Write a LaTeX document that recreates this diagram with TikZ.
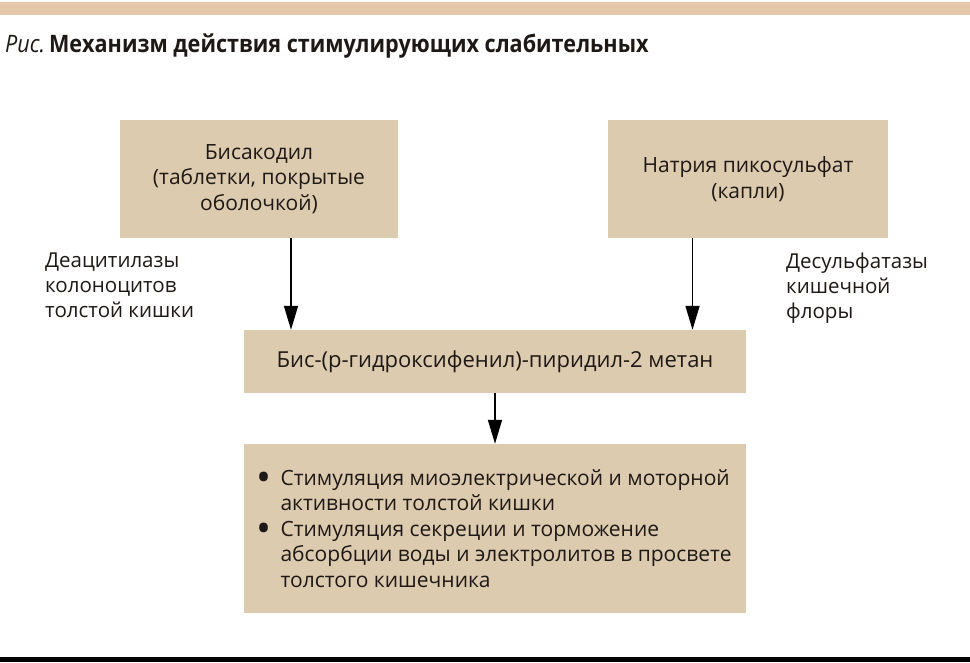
\documentclass[tikz,border=0pt]{standalone}
\usepackage{fontspec}
\setmainfont{Open Sans}
\usetikzlibrary{arrows.meta}
\definecolor{boxc}{RGB}{221,203,176}
\definecolor{barc}{RGB}{229,199,170}
\definecolor{txt}{RGB}{30,25,22}
\newcommand{\bulletmark}{\makebox[22pt][l]{\hspace*{-2pt}\raisebox{-0.3em}{\scalebox{1.9}{\textbullet}}}}
\begin{document}
\begin{tikzpicture}[x=1pt,y=-1pt,
  box/.style={fill=boxc, draw=none, inner sep=0pt, text=txt, align=center,
    font=\fontsize{21}{25.5}\selectfont},
  lbl/.style={font=\fontsize{20.5}{25}\selectfont, align=left, anchor=north west,
    inner sep=0pt, text=txt},
  arr/.style={-{Triangle[length=24pt,width=14pt]}, line width=1.5pt, draw=black}]
\useasboundingbox (0,0) rectangle (970,662);
\fill[white] (0,0) rectangle (970,662);
\fill[barc] (0,2) rectangle (970,15);
\fill[black] (0,656.5) rectangle (970,662);
% title
\node[anchor=base west, inner sep=0pt, text=txt] (title) at (5,52.7)
  {\fontsize{24}{28}\selectfont\addfontfeatures{FakeStretch=0.9}\textit{Рис.}\,\textbf{Механизм действия стимулирующих слабительных}};
% boxes
\node[box, minimum width=278pt, minimum height=118pt] (b1) at (259,179)
  {Бисакодил\\(таблетки, покрытые\\оболочкой)};
\node[box, minimum width=280pt, minimum height=118pt] (b2) at (748,179)
  {Натрия пикосульфат\\(капли)};
\node[box, minimum width=502pt, minimum height=63pt, font=\fontsize{22}{26}\selectfont] (b3) at (495,361.5)
  {Бис-(р-гидроксифенил)-пиридил-2 метан};
\node[box, minimum width=502pt, minimum height=169pt, align=left] (b4) at (495,528.5)
  {\bulletmark Стимуляция миоэлектрической и моторной\\
   \hspace*{22pt}активности толстой кишки\\
   \bulletmark Стимуляция секреции и торможение\\
   \hspace*{22pt}абсорбции воды и электролитов в просвете\\
   \hspace*{22pt}толстого кишечника};
% side labels
\node[lbl] (l1) at (45,253) {Деацитилазы\\колоноцитов\\толстой кишки};
\node[lbl] (l2) at (786,253) {Десульфатазы\\кишечной\\флоры};
% arrows
\draw[arr] (b1.south -| 291,0) -- (b3.north -| 291,0);
\draw[arr] (b2.south -| 692.5,0) -- (b3.north -| 692.5,0);
\draw[arr] (b3.south) -- (b4.north);
\end{tikzpicture}
\end{document}
